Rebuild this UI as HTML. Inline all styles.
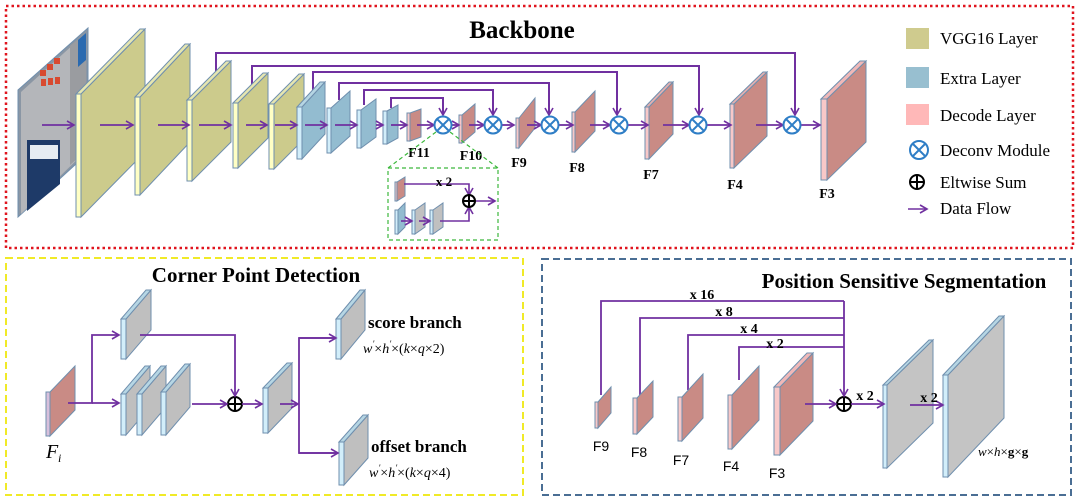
<!DOCTYPE html>
<html><head><meta charset="utf-8"><style>
html,body{margin:0;padding:0;background:#fff}
svg{display:block}
.t{font-family:"Liberation Serif",serif}
.b{font-weight:bold}
.s{font-family:"Liberation Sans",sans-serif}
</style></head><body>
<svg width="1080" height="499" viewBox="0 0 1080 499" xmlns="http://www.w3.org/2000/svg">
<defs>
<marker id="a" markerWidth="10" markerHeight="10" refX="8" refY="5" orient="auto" markerUnits="userSpaceOnUse">
<path d="M1,1 L8,5 L1,9" fill="none" stroke="#7030a0" stroke-width="1.6"/>
</marker>
</defs>
<!-- boxes -->
<rect x="6" y="6" width="1067" height="242" fill="none" stroke="#e0141e" stroke-width="2.5" stroke-dasharray="2.5,3"/>
<rect x="6" y="258" width="517" height="237" fill="none" stroke="#f0ea28" stroke-width="2" stroke-dasharray="7,4"/>
<rect x="542" y="259" width="529" height="236" fill="none" stroke="#4a6e94" stroke-width="2" stroke-dasharray="7,4"/>

<text x="522" y="38" class="t b" font-size="25" text-anchor="middle">Backbone</text>
<text x="256" y="282" class="t b" font-size="21" text-anchor="middle">Corner Point Detection</text>
<text x="904" y="288" class="t b" font-size="21" text-anchor="middle">Position Sensitive Segmentation</text>

<!-- skip lines backbone -->
<g fill="none" stroke="#7030a0" stroke-width="2">
<polyline points="216,74 216,53 795,53 795,115" marker-end="url(#a)"/>
<polyline points="252,90 252,66 699,66 699,115" marker-end="url(#a)"/>
<polyline points="313,98 313,72 617,72 617,115" marker-end="url(#a)"/>
<polyline points="339,100 339,83 549,83 549,115" marker-end="url(#a)"/>
<polyline points="364,105 364,90 493,90 493,115" marker-end="url(#a)"/>
<polyline points="391,108 391,98 443,98 443,115" marker-end="url(#a)"/>
</g>

<!-- image -->
<polygon points="18,90 88,28 88,153 18,217" fill="#8a96a4" stroke="#6f8fae" stroke-width="1"/>
<polygon points="21,92 86,33 86,151 21,214" fill="#b4b6ba"/>
<polygon points="70,46 86,33 86,151 70,165" fill="#9a9ca0"/>
<polygon points="27,140 60,140 60,184 27,211" fill="#1e3a68"/>
<rect x="30" y="145" width="28" height="14" fill="#e6ecf2"/>
<rect x="40" y="70" width="6" height="6" fill="#d84a30"/><rect x="47" y="64" width="6" height="6" fill="#d84a30"/><rect x="54" y="58" width="6" height="6" fill="#d84a30"/>
<rect x="41" y="79" width="5" height="7" fill="#d84a30"/><rect x="48" y="78" width="5" height="7" fill="#d84a30"/><rect x="55" y="77" width="5" height="7" fill="#d84a30"/>
<polygon points="78,40 86,33 86,60 78,67" fill="#2a6ab0"/>

<!-- backbone slabs -->
<g stroke="#6f8fae" stroke-width="1">
<polygon points="81,94 145,29 145,152 81,217" fill="#cccb8c"/><polygon points="76,94 81,94 81,217 76,217" fill="#ffffc4"/><polygon points="76,94 140,29 145,29 81,94" fill="#e6e6b0"/>
<polygon points="140,97 190,44 190,142 140,195" fill="#cccb8c"/><polygon points="135,97 140,97 140,195 135,195" fill="#ffffc4"/><polygon points="135,97 185,44 190,44 140,97" fill="#e6e6b0"/>
<polygon points="192,100 231,61 231,142 192,181" fill="#cccb8c"/><polygon points="187,100 192,100 192,181 187,181" fill="#ffffc4"/><polygon points="187,100 226,61 231,61 192,100" fill="#e6e6b0"/>
<polygon points="238,103 268,73 268,138 238,168" fill="#cccb8c"/><polygon points="233,103 238,103 238,168 233,168" fill="#ffffc4"/><polygon points="233,103 263,73 268,73 238,103" fill="#e6e6b0"/>
<polygon points="274,104 304,74 304,139 274,169" fill="#cccb8c"/><polygon points="269,104 274,104 274,169 269,169" fill="#ffffc4"/><polygon points="269,104 299,74 304,74 274,104" fill="#e6e6b0"/>
<polygon points="302,107 325,82 325,134 302,159" fill="#93bcd0"/><polygon points="297,107 302,107 302,159 297,159" fill="#d2eefa"/><polygon points="297,107 320,82 325,82 302,107" fill="#b6d6e4"/>
<polygon points="331,108 350,91 350,136 331,153" fill="#93bcd0"/><polygon points="327,108 331,108 331,153 327,153" fill="#d2eefa"/>
<polygon points="361,110 376,99 376,137 361,148" fill="#93bcd0"/><polygon points="357,110 361,110 361,148 357,148" fill="#d2eefa"/>
<polygon points="387,111 398,105 398,138 387,144" fill="#93bcd0"/><polygon points="383,111 387,111 387,144 383,144" fill="#d2eefa"/>
<polygon points="410,113 421,109 421,137 410,141" fill="#c98b85"/><polygon points="407,113 410,113 410,141 407,141" fill="#f8c8c8"/>
<polygon points="462,115 475,104 475,132 462,143" fill="#c98b85"/><polygon points="459,115 462,115 462,143 459,143" fill="#f8c8c8"/>
<polygon points="519,118 535,98 535,128 519,148" fill="#c98b85"/><polygon points="516,118 519,118 519,148 516,148" fill="#f8c8c8"/>
<polygon points="575,112 595,91 595,131 575,152" fill="#c98b85"/><polygon points="572,112 575,112 575,152 572,152" fill="#f8c8c8"/>
<polygon points="649,107 673,82 673,134 649,159" fill="#c98b85"/><polygon points="645,107 649,107 649,159 645,159" fill="#f8c8c8"/><polygon points="645,107 669,82 673,82 649,107" fill="#e4b0b0"/>
<polygon points="734,104 767,72 767,136 734,168" fill="#c98b85"/><polygon points="730,104 734,104 734,168 730,168" fill="#f8c8c8"/><polygon points="730,104 763,72 767,72 734,104" fill="#e4b0b0"/>
<polygon points="827,99 866,61 866,142 827,180" fill="#c98b85"/><polygon points="821,99 827,99 827,180 821,180" fill="#f8c8c8"/><polygon points="821,99 860,61 866,61 827,99" fill="#f0b8b8"/>
</g>

<!-- flow arrows -->
<g fill="none" stroke="#7030a0" stroke-width="1.8" marker-end="url(#a)">
<line x1="42" y1="125" x2="74" y2="125"/><line x1="100" y1="125" x2="133" y2="125"/><line x1="158" y1="125" x2="189" y2="125"/>
<line x1="199" y1="125" x2="231" y2="125"/><line x1="246" y1="125" x2="267" y2="125"/><line x1="275" y1="125" x2="297" y2="125"/>
<line x1="305" y1="125" x2="327" y2="125"/><line x1="335" y1="125" x2="357" y2="125"/><line x1="376" y1="125" x2="383" y2="125"/>
<line x1="391" y1="125" x2="407" y2="125"/><line x1="417" y1="125" x2="434" y2="125"/><line x1="452" y1="125" x2="459" y2="125"/>
<line x1="469" y1="125" x2="484" y2="125"/><line x1="502" y1="125" x2="514" y2="125"/><line x1="527" y1="125" x2="541" y2="125"/>
<line x1="559" y1="125" x2="573" y2="125"/><line x1="590" y1="125" x2="610" y2="125"/><line x1="628" y1="125" x2="648" y2="125"/>
<line x1="663" y1="125" x2="689" y2="125"/><line x1="707" y1="125" x2="731" y2="125"/><line x1="756" y1="125" x2="783" y2="125"/>
<line x1="801" y1="125" x2="820" y2="125"/>
</g>
<!-- deconv circles -->
<g fill="#fff" stroke="#2f7ec6" stroke-width="2">
<circle cx="443" cy="125" r="8.5"/><circle cx="493" cy="125" r="8.5"/><circle cx="550" cy="125" r="8.5"/>
<circle cx="619" cy="125" r="8.5"/><circle cx="698" cy="125" r="8.5"/><circle cx="792" cy="125" r="8.5"/>
<circle cx="919" cy="150" r="9"/>
</g>
<g stroke="#2f7ec6" stroke-width="2">
<path d="M437,119 l12,12 M449,119 l-12,12"/><path d="M487,119 l12,12 M499,119 l-12,12"/><path d="M544,119 l12,12 M556,119 l-12,12"/>
<path d="M613,119 l12,12 M625,119 l-12,12"/><path d="M692,119 l12,12 M704,119 l-12,12"/><path d="M786,119 l12,12 M798,119 l-12,12"/>
<path d="M913,144 l12,12 M925,144 l-12,12"/>
</g>
<!-- labels -->
<g class="t b" font-size="14" text-anchor="middle">
<text x="419" y="157">F11</text><text x="471" y="160">F10</text><text x="519" y="167">F9</text>
<text x="577" y="172">F8</text><text x="651" y="179">F7</text><text x="735" y="189">F4</text><text x="827" y="198">F3</text>
</g>

<!-- inset -->
<rect x="388" y="168" width="110" height="72" fill="none" stroke="#3cb83c" stroke-width="1.2" stroke-dasharray="4,3"/>
<g stroke="#3cb83c" stroke-width="1.2" stroke-dasharray="4,3"><line x1="436" y1="132" x2="388" y2="168"/><line x1="450" y1="132" x2="498" y2="168"/></g>
<g stroke="#6f8fae" stroke-width="1">
<polygon points="397,182 405,177 405,196 397,201" fill="#c98b85"/><polygon points="395,182 397,182 397,201 395,201" fill="#f8c8c8"/>
<polygon points="398,210 405,203 405,227 398,234" fill="#93bcd0"/><polygon points="395,210 398,210 398,234 395,234" fill="#d2eefa"/>
<polygon points="415,210 425,203 425,227 415,234" fill="#c0c0c0"/><polygon points="412,210 415,210 415,234 412,234" fill="#d2eefa"/>
<polygon points="433,210 443,203 443,227 433,234" fill="#c0c0c0"/><polygon points="430,210 433,210 433,234 430,234" fill="#d2eefa"/>
</g>
<g fill="none" stroke="#7030a0" stroke-width="1.6">
<polyline points="404,184 469,184 469,195" marker-end="url(#a)"/>
<polyline points="440,221 469,221 469,207" marker-end="url(#a)"/>
<line x1="475" y1="201" x2="495" y2="201" marker-end="url(#a)"/>
<line x1="401" y1="221" x2="412" y2="221" marker-end="url(#a)"/>
<line x1="419" y1="221" x2="430" y2="221" marker-end="url(#a)"/>
</g>
<text x="444" y="186" class="t b" font-size="13" text-anchor="middle">x 2</text>

<!-- legend -->
<rect x="906" y="28" width="23" height="21" fill="#cfcb8e"/>
<rect x="906" y="67" width="23" height="21" fill="#98bfd0"/>
<rect x="906" y="104" width="23" height="21" fill="#ffb8b8"/>
<g class="t" font-size="17"><text x="940" y="44">VGG16 Layer</text><text x="940" y="84">Extra Layer</text><text x="940" y="121">Decode Layer</text>
<text x="940" y="156">Deconv Module</text><text x="940" y="188">Eltwise Sum</text><text x="940" y="214">Data Flow</text></g>
<line x1="908" y1="209" x2="927" y2="209" stroke="#7030a0" stroke-width="1.6" marker-end="url(#a)"/>

<!-- eltwise symbols -->
<g fill="#fff" stroke="#000" stroke-width="2">
<circle cx="917" cy="182" r="7"/><circle cx="469" cy="201" r="6"/><circle cx="235" cy="404" r="7"/><circle cx="844" cy="404" r="7"/>
</g>
<g stroke="#000" stroke-width="2"><path d="M910,182h14M917,175v14"/><path d="M463,201h12M469,195v12"/><path d="M228,404h14M235,397v14"/><path d="M837,404h14M844,397v14"/></g>

<!-- corner detection -->
<g stroke="#6f8fae" stroke-width="1">
<polygon points="50,392 75,366 75,410 50,436" fill="#c98b85"/><polygon points="46,392 50,392 50,436 46,436" fill="#d8c0dc"/>
<polygon points="126,319 151,290 151,330 126,359" fill="#bfbfbf"/><polygon points="121,319 126,319 126,359 121,359" fill="#d2eefa"/><polygon points="121,319 146,290 151,290 126,319" fill="#b6d6e4"/>
<polygon points="126,394 150,366 150,407 126,435" fill="#bfbfbf"/><polygon points="121,394 126,394 126,435 121,435" fill="#d2eefa"/><polygon points="121,394 145,366 150,366 126,394" fill="#b6d6e4"/>
<polygon points="142,394 166,366 166,407 142,435" fill="#bfbfbf"/><polygon points="137,394 142,394 142,435 137,435" fill="#d2eefa"/><polygon points="137,394 161,366 166,366 142,394" fill="#b6d6e4"/>
<polygon points="166,392 190,364 190,407 166,435" fill="#bfbfbf"/><polygon points="161,392 166,392 166,435 161,435" fill="#d2eefa"/><polygon points="161,392 185,364 190,364 166,392" fill="#b6d6e4"/>
<polygon points="268,388 292,363 292,408 268,433" fill="#bfbfbf"/><polygon points="263,388 268,388 268,433 263,433" fill="#d2eefa"/><polygon points="263,388 287,363 292,363 268,388" fill="#b6d6e4"/>
<polygon points="341,319 365,290 365,330 341,359" fill="#bfbfbf"/><polygon points="336,319 341,319 341,359 336,359" fill="#d2eefa"/><polygon points="336,319 360,290 365,290 341,319" fill="#b6d6e4"/>
<polygon points="344,442 368,415 368,458 344,485" fill="#bfbfbf"/><polygon points="339,442 344,442 344,485 339,485" fill="#d2eefa"/><polygon points="339,442 363,415 368,415 344,442" fill="#b6d6e4"/>
</g>
<g fill="none" stroke="#7030a0" stroke-width="1.8">
<polyline points="68,403 92,403 92,335 119,335" marker-end="url(#a)"/>
<line x1="92" y1="403" x2="119" y2="403" marker-end="url(#a)"/>
<polyline points="140,335 235,335 235,396" marker-end="url(#a)"/>
<line x1="192" y1="404" x2="227" y2="404" marker-end="url(#a)"/>
<line x1="242" y1="404" x2="262" y2="404" marker-end="url(#a)"/>
<line x1="280" y1="404" x2="298" y2="404" marker-end="url(#a)"/>
<polyline points="336,338 299,338 299,453 337,453"/>
<line x1="299" y1="338" x2="336" y2="338" marker-end="url(#a)"/>
<line x1="299" y1="453" x2="338" y2="453" marker-end="url(#a)"/>
</g>
<text x="46" y="458" class="t" font-size="20" font-style="italic">F</text><text x="58" y="462" class="t" font-size="12" font-style="italic">i</text>
<text x="368" y="328" class="t b" font-size="17">score branch</text>
<text x="363" y="353" class="t" font-size="14" font-style="italic">w<tspan font-size="9" dy="-6">'</tspan><tspan dy="6" font-style="normal">×</tspan>h<tspan font-size="9" dy="-6">'</tspan><tspan dy="6" font-style="normal">×(</tspan>k<tspan font-style="normal">×</tspan>q<tspan font-style="normal">×2)</tspan></text>
<text x="371" y="452" class="t b" font-size="17">offset branch</text>
<text x="369" y="477" class="t" font-size="14" font-style="italic">w<tspan font-size="9" dy="-6">'</tspan><tspan dy="6" font-style="normal">×</tspan>h<tspan font-size="9" dy="-6">'</tspan><tspan dy="6" font-style="normal">×(</tspan>k<tspan font-style="normal">×</tspan>q<tspan font-style="normal">×4)</tspan></text>

<!-- position sensitive -->
<g fill="none" stroke="#7030a0" stroke-width="1.8">
<polyline points="601,395 601,301 844,301"/>
<polyline points="640,398 640,318 844,318"/>
<polyline points="688,390 688,335 844,335"/>
<polyline points="739,380 739,347 844,347"/>
<line x1="844" y1="301" x2="844" y2="396" marker-end="url(#a)"/>
</g>
<g stroke="#6f8fae" stroke-width="1">
<polygon points="598,402 611,387 611,413 598,428" fill="#c98b85"/><polygon points="595,402 598,402 598,428 595,428" fill="#f8c8c8"/>
<polygon points="637,398 653,381 653,417 637,434" fill="#c98b85"/><polygon points="633,398 637,398 637,434 633,434" fill="#f8c8c8"/>
<polygon points="682,397 703,374 703,418 682,441" fill="#c98b85"/><polygon points="678,397 682,397 682,441 678,441" fill="#f8c8c8"/>
<polygon points="732,395 759,366 759,420 732,449" fill="#c98b85"/><polygon points="728,395 732,395 732,449 728,449" fill="#f8c8c8"/>
<polygon points="780,387 813,353 813,421 780,455" fill="#c98b85"/><polygon points="774,387 780,387 780,455 774,455" fill="#f8c8c8"/><polygon points="774,387 807,353 813,353 780,387" fill="#f0b8b8"/>
<polygon points="887,385 933,340 933,423 887,468" fill="#c4c4c4"/><polygon points="883,385 887,385 887,468 883,468" fill="#d2eefa"/><polygon points="883,385 929,340 933,340 887,385" fill="#b6d6e4"/>
<polygon points="948,375 1004,316 1004,418 948,477" fill="#c4c4c4"/><polygon points="943,375 948,375 948,477 943,477" fill="#d2eefa"/><polygon points="943,375 999,316 1004,316 948,375" fill="#b6d6e4"/>
</g>
<g fill="none" stroke="#7030a0" stroke-width="1.8" marker-end="url(#a)">
<line x1="805" y1="404" x2="836" y2="404"/>
<line x1="851" y1="404" x2="884" y2="404"/>
<line x1="910" y1="405" x2="943" y2="405"/>
</g>
<g class="t b" font-size="14" text-anchor="middle">
<text x="702" y="299">x 16</text><text x="724" y="316">x 8</text><text x="749" y="333">x 4</text><text x="775" y="348">x 2</text>
<text x="865" y="400">x 2</text><text x="929" y="402">x 2</text>
</g>
<g class="s" font-size="14" text-anchor="middle">
<text x="601" y="451">F9</text><text x="639" y="457">F8</text><text x="681" y="465">F7</text><text x="731" y="471">F4</text><text x="777" y="478">F3</text>
</g>
<text x="978" y="456" class="t" font-size="13" font-style="italic">w<tspan font-style="normal">×</tspan>h<tspan font-style="normal">×</tspan><tspan font-weight="bold" font-style="normal">g</tspan><tspan font-style="normal">×</tspan><tspan font-weight="bold" font-style="normal">g</tspan></text>
</svg>
</body></html>
